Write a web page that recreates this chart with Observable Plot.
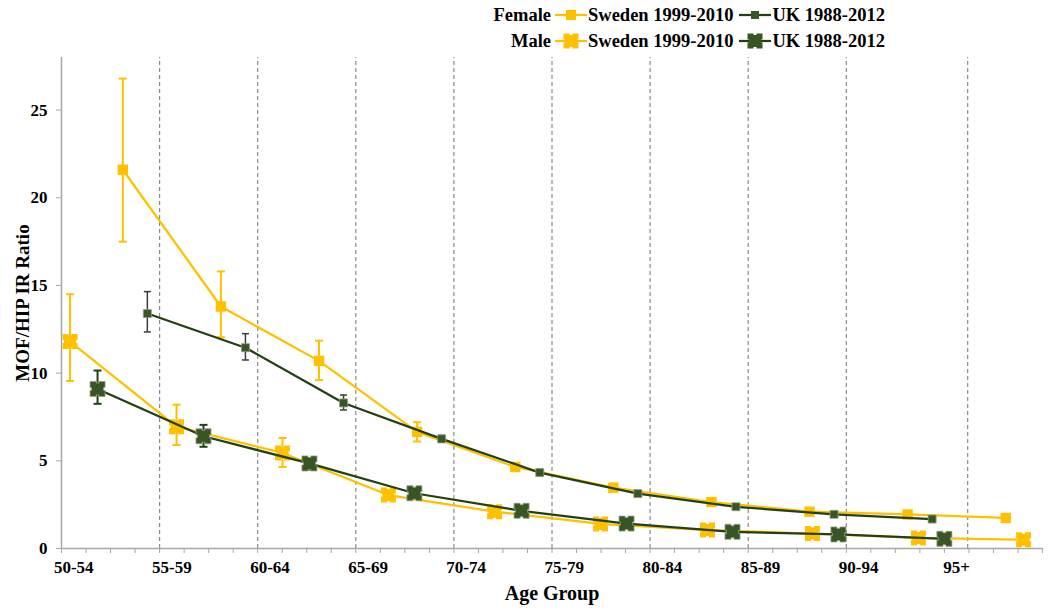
<!DOCTYPE html>
<html>
<head>
<meta charset="utf-8">
<script src="https://cdn.jsdelivr.net/npm/d3@7"></script>
<script src="https://cdn.jsdelivr.net/npm/@observablehq/plot@0.6"></script>
<style>
  html, body { margin: 0; padding: 0; background: #fff; }
  #wrap { width: 1050px; position: relative; font-family: "Liberation Serif", "Times New Roman", serif; font-weight: bold; }
  #legend { position: relative; height: 50px; width: 1050px; }
  .lrow { position: absolute; left: 0; height: 22px; display: flex; align-items: center; font-size: 18.5px; color: #000; white-space: nowrap; }
  .lrow .lab { width: 551px; text-align: right; }
  .lrow svg { display: block; }
  svg.plot text { font-family: "Liberation Serif", "Times New Roman", serif; }
</style>
</head>
<body>
<div id="wrap">
  <div id="legend"></div>
  <div id="chart"></div>
</div>
<script>
// ---------- data ----------
const ageLabels = ["50-54","55-59","60-64","65-69","70-74","75-79","80-84","85-89","90-94","95+"];
const ageLabelPos = [0.5, 4.5, 8.5, 12.5, 16.5, 20.5, 24.5, 28.5, 32.5, 36.5];
const groupDividers = [4, 8, 12, 16, 20, 24, 28, 32, 36.95];
const yTicks = [0, 5, 10, 15, 20, 25];

const femaleSwedenX  = [2.5, 6.5, 10.5, 14.5, 18.5, 22.5, 26.5, 30.5, 34.5, 38.5];
const femaleSwedenY  = [21.6, 13.8, 10.7, 6.65, 4.65, 3.47, 2.65, 2.1, 1.94, 1.74];
const femaleSwedenLo = [17.5, 12.05, 9.6, 6.1, 4.45, null, null, null, null, null];
const femaleSwedenHi = [26.8, 15.8, 11.85, 7.2, 4.85, null, null, null, null, null];

const femaleUKX  = [3.5, 7.5, 11.5, 15.5, 19.5, 23.5, 27.5, 31.5, 35.5];
const femaleUKY  = [13.4, 11.45, 8.3, 6.25, 4.33, 3.13, 2.38, 1.95, 1.68];
const femaleUKLo = [12.35, 10.75, 7.9, 6.1, null, null, null, null, null];
const femaleUKHi = [14.65, 12.25, 8.75, 6.45, null, null, null, null, null];

const maleSwedenX  = [0.35, 4.69, 9.01, 13.33, 17.66, 21.98, 26.34, 30.62, 34.94, 39.23];
const maleSwedenY  = [11.8, 6.95, 5.45, 3.05, 2.1, 1.4, 1.05, 0.85, 0.6, 0.5];
const maleSwedenLo = [9.55, 5.9, 4.65, 2.75, 1.9, null, null, null, null, null];
const maleSwedenHi = [14.5, 8.2, 6.3, 3.35, 2.3, null, null, null, null, null];

const maleUKX  = [1.47, 5.79, 10.11, 14.39, 18.76, 23.04, 27.36, 31.68, 36.0];
const maleUKY  = [9.1, 6.4, 4.85, 3.15, 2.15, 1.42, 0.95, 0.8, 0.55];
const maleUKLo = [8.25, 5.8, 4.5, 2.9, 1.95, 1.25, 0.8, 0.65, 0.4];
const maleUKHi = [10.15, 7.05, 5.15, 3.4, 2.35, 1.6, 1.1, 0.95, 0.7];

// ---------- styles ----------
const YELLOW = "#FFC000";
const DARK = "#375623";
const DARKLINE = "#233f14";
const GRAY = "#a6a6a6";

const table = (xs, ys, lo, hi) => xs.map((x, i) => ({x, y: ys[i], lo: lo[i], hi: hi[i]}));
const fSwe = table(femaleSwedenX, femaleSwedenY, femaleSwedenLo, femaleSwedenHi);
const fUK  = table(femaleUKX, femaleUKY, femaleUKLo, femaleUKHi);
const mSwe = table(maleSwedenX, maleSwedenY, maleSwedenLo, maleSwedenHi);
const mUK  = table(maleUKX, maleUKY, maleUKLo, maleUKHi);

// symbols (r = half side)
const squareSym = { draw(ctx, size) { const h = Math.sqrt(size / Math.PI); ctx.rect(-h, -h, 2 * h, 2 * h); } };
const capSym = { draw(ctx, size) { const w = Math.sqrt(size / Math.PI); ctx.moveTo(-w, 0); ctx.lineTo(w, 0); } };
const notchSym = { draw(ctx, size) {
  const h = Math.sqrt(size / Math.PI), n = h * 0.2, d = h * 0.2;
  ctx.moveTo(-h, -h); ctx.lineTo(-n, -h); ctx.lineTo(-n, -h + d); ctx.lineTo(n, -h + d); ctx.lineTo(n, -h);
  ctx.lineTo(h, -h); ctx.lineTo(h, -n); ctx.lineTo(h - d, -n); ctx.lineTo(h - d, n); ctx.lineTo(h, n);
  ctx.lineTo(h, h); ctx.lineTo(n, h); ctx.lineTo(n, h - d); ctx.lineTo(-n, h - d); ctx.lineTo(-n, h);
  ctx.lineTo(-h, h); ctx.lineTo(-h, n); ctx.lineTo(-h + d, n); ctx.lineTo(-h + d, -n); ctx.lineTo(-h, -n);
  ctx.closePath();
} };

function series(data, o) {
  const eb = data.filter(d => d.lo != null);
  return [
    Plot.line(data, {x: "x", y: "y", stroke: o.line, strokeWidth: 2.25}),
    Plot.ruleX(eb, {x: "x", y1: "lo", y2: "hi", stroke: o.err, strokeWidth: o.ew}),
    Plot.dot(eb, {x: "x", y: "hi", symbol: capSym, r: o.cap, stroke: o.err, strokeWidth: o.ew}),
    Plot.dot(eb, {x: "x", y: "lo", symbol: capSym, r: o.cap, stroke: o.err, strokeWidth: o.ew}),
    Plot.dot(data, {x: "x", y: "y", symbol: o.sym, r: o.r, fill: o.fill, stroke: o.mstroke || "none", strokeWidth: 0.8})
  ];
}

const chart = Plot.plot({
  width: 1050,
  height: 562,
  marginTop: 7,
  marginBottom: 64,
  marginLeft: 61,
  marginRight: 8,
  x: {domain: [0, 40], axis: null},
  y: {domain: [0, 28], axis: null},
  style: {fontFamily: "Liberation Serif", fontWeight: "bold", fontSize: "17px", color: "#000", background: "#fff"},
  className: "plot",
  marks: [
    Plot.ruleX(groupDividers, {y1: 0, y2: 28, stroke: "#8a8a8a", strokeWidth: 1.2, strokeDasharray: "4,3"}),
    Plot.ruleX([0], {stroke: GRAY, strokeWidth: 1.5}),
    Plot.ruleY([0], {stroke: GRAY, strokeWidth: 1.5}),
    Plot.axisY({ticks: yTicks, tickSize: 5, tickPadding: 9, stroke: GRAY, fill: "#000", fontSize: 17, label: null}),
    Plot.axisX({ticks: d3.range(0, 41), tickSize: 5, stroke: GRAY, tickFormat: () => "", label: null}),
    Plot.axisX({ticks: ageLabelPos, tickSize: 0, tickPadding: 12, fill: "#000", fontSize: 17, label: null,
      tickFormat: d => ageLabels[ageLabelPos.indexOf(d)]}),
    Plot.text(["Age Group"], {frameAnchor: "bottom", lineAnchor: "middle", textAnchor: "middle", dy: 45, fontSize: 20, fontWeight: "bold", fill: "#000"}),
    Plot.text(["MOF/HIP IR Ratio"], {frameAnchor: "left", textAnchor: "middle", lineAnchor: "middle", dx: -39, rotate: -90, fontSize: 19, fontWeight: "bold", fill: "#000"}),
    ...series(fSwe, {line: YELLOW, err: YELLOW, ew: 2, cap: 4, sym: squareSym, r: 5.2, fill: YELLOW}),
    ...series(fUK,  {line: DARKLINE, err: "#3a3a3a", ew: 1.5, cap: 3.5, sym: squareSym, r: 4, fill: DARK, mstroke: "#8f9c86"}),
    ...series(mSwe, {line: YELLOW, err: YELLOW, ew: 2, cap: 4, sym: notchSym, r: 7.5, fill: YELLOW}),
    ...series(mUK,  {line: DARKLINE, err: DARKLINE, ew: 2, cap: 4, sym: notchSym, r: 7.5, fill: DARK, mstroke: "#8f9c86"})
  ]
});
document.getElementById("chart").appendChild(chart);

// ---------- legend ----------
const legendRows = [
  {label: "Female", top: 4, items: [
    {text: "Sweden 1999-2010", color: YELLOW, fill: YELLOW, shape: "sq", s: 5, w: 34},
    {text: "UK 1988-2012", color: DARKLINE, fill: DARK, shape: "sq", s: 4, w: 34}]},
  {label: "Male", top: 30, items: [
    {text: "Sweden 1999-2010", color: YELLOW, fill: YELLOW, shape: "notch", s: 7.5, w: 34},
    {text: "UK 1988-2012", color: DARKLINE, fill: DARK, shape: "notch", s: 7.5, w: 34}]}
];
function swatch(it) {
  const ns = "http://www.w3.org/2000/svg";
  const svg = document.createElementNS(ns, "svg");
  svg.setAttribute("width", it.w); svg.setAttribute("height", 20);
  const line = document.createElementNS(ns, "line");
  line.setAttribute("x1", 1); line.setAttribute("x2", it.w - 1);
  line.setAttribute("y1", 10); line.setAttribute("y2", 10);
  line.setAttribute("stroke", it.color); line.setAttribute("stroke-width", 2.25);
  svg.appendChild(line);
  const p = document.createElementNS(ns, "path");
  const sym = it.shape === "sq" ? squareSym : notchSym;
  const d = d3.path(); sym.draw(d, it.s * it.s * Math.PI);
  p.setAttribute("d", d.toString());
  p.setAttribute("transform", `translate(${it.w / 2},10)`);
  p.setAttribute("fill", it.fill);
  svg.appendChild(p);
  return svg;
}
const legend = document.getElementById("legend");
for (const row of legendRows) {
  const div = document.createElement("div");
  div.className = "lrow";
  div.style.top = row.top + "px";
  const lab = document.createElement("span");
  lab.className = "lab"; lab.textContent = row.label;
  div.appendChild(lab);
  row.items.forEach((it, k) => {
    const sw = swatch(it);
    sw.style.marginLeft = k === 0 ? "3px" : "5px";
    div.appendChild(sw);
    const t = document.createElement("span");
    t.textContent = it.text;
    div.appendChild(t);
  });
  legend.appendChild(div);
}
</script>
</body>
</html>
